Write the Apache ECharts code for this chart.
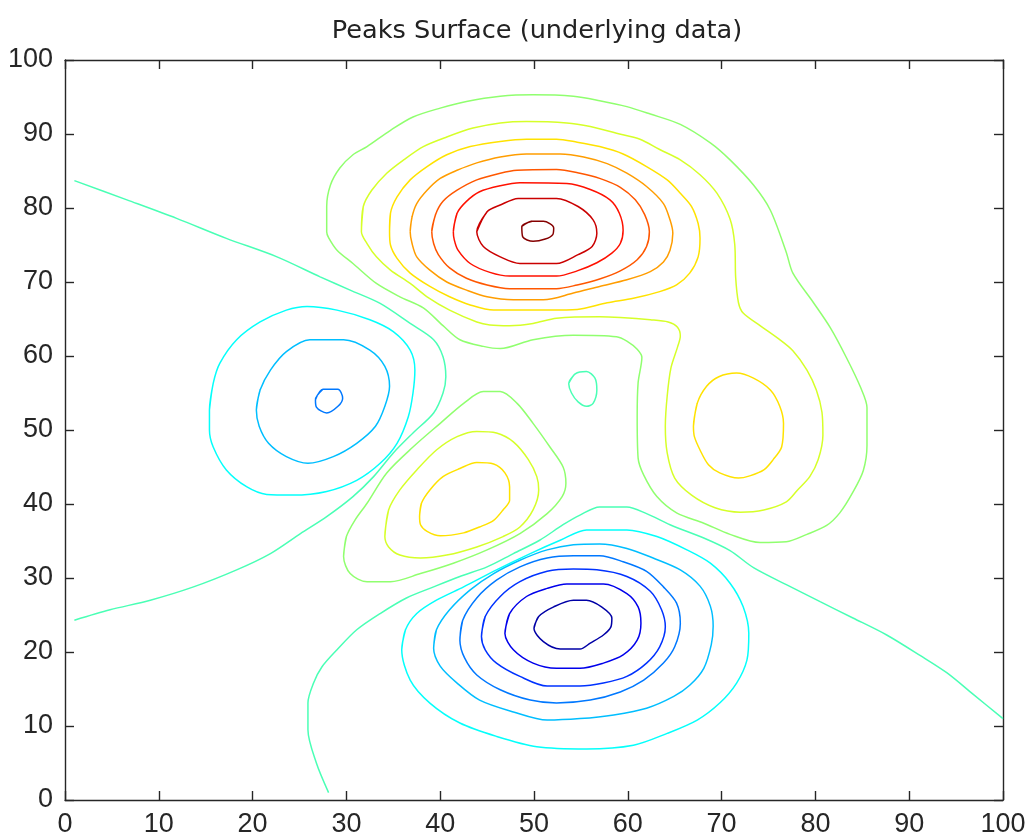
<!DOCTYPE html>
<html>
<head>
<meta charset="utf-8">
<script src="https://cdn.jsdelivr.net/npm/echarts@6/dist/echarts.min.js"></script>
<style>html,body{margin:0;padding:0;background:#fff}#chart{width:1030px;height:838px}</style>
</head>
<body>
<div id="chart"></div>
<script>
// Contour levels and their jet colours
const levels = [-6, -5, -4, -3, -2, -1, 0, 1, 2, 3, 4, 5, 6, 7, 8];
const levelColors = ['#0000a6', '#0000eb', '#0032ff', '#0078ff', '#00beff', '#04fffb', '#4affb5', '#90ff6f', '#d6ff29', '#ffe200', '#ff9d00', '#ff5700', '#ff1100', '#ca0000', '#850000'];
const axisTicks = [0, 10, 20, 30, 40, 50, 60, 70, 80, 90, 100];

// Contour paths (x, y)
const c8 = [[48.7,77.5],[49.8,78.2],[51.0,78.2],[52.1,77.3],[52.0,76.4],[51.2,75.8],[49.9,75.5],[48.8,76.1]];
const c7 = [[43.9,76.8],[45.0,79.5],[46.4,80.4],[48.3,81.3],[52.4,81.3],[54.7,80.2],[56.3,78.4],[56.7,76.6],[56.2,74.8],[54.7,73.7],[52.4,72.5],[48.5,72.5],[46.4,73.4],[44.6,74.8]];
const c6 = [[41.4,76.8],[41.8,79.3],[42.8,80.9],[44.2,82.2],[46.4,83.0],[48.5,83.4],[53.5,83.3],[56.0,82.5],[58.1,81.1],[59.1,79.3],[59.5,77.0],[59.2,75.2],[58.3,73.9],[56.7,72.6],[54.6,71.5],[52.4,70.8],[47.4,70.8],[45.3,71.3],[43.2,72.5],[41.9,74.3],[41.5,75.7]];
const c5 = [[39.1,76.8],[39.5,79.1],[40.3,80.9],[41.8,82.4],[43.9,83.8],[46.4,84.7],[48.2,85.1],[52.4,85.2],[54.9,84.7],[57.0,84.0],[59.2,82.8],[60.8,81.1],[61.8,79.1],[62.3,76.8],[62.0,74.8],[61.0,73.0],[59.2,71.5],[57.0,70.4],[54.6,69.6],[52.4,69.1],[47.4,69.1],[45.0,69.6],[42.8,70.5],[41.0,71.9],[39.8,73.7],[39.3,75.2]];
const c4 = [[36.8,76.8],[37.0,78.8],[37.5,80.6],[38.6,82.4],[40.0,84.0],[41.8,85.1],[43.9,86.1],[46.4,86.9],[49.2,87.3],[52.8,87.3],[55.3,86.9],[57.8,86.0],[59.9,84.7],[62.0,82.9],[63.8,80.6],[64.5,78.4],[64.8,76.6],[64.5,74.3],[63.8,72.7],[62.4,71.4],[59.9,70.3],[57.0,69.4],[54.2,68.5],[51.0,67.6],[47.8,67.6],[45.0,68.0],[42.8,68.9],[40.7,70.0],[38.9,71.6],[37.5,73.4],[37.0,75.2]];
const c3Top = [[34.6,76.8],[34.7,79.3],[35.4,81.5],[36.8,83.8],[38.6,85.6],[40.7,87.2],[43.2,88.3],[46.4,89.0],[49.2,89.3],[52.4,89.3],[54.6,88.9],[57.0,88.3],[59.5,87.3],[62.0,85.6],[64.2,83.8],[65.6,82.0],[66.8,80.2],[67.5,77.9],[67.7,75.9],[67.5,73.4],[66.6,71.2],[65.2,69.6],[63.4,68.7],[60.6,67.8],[57.8,67.2],[54.6,66.3],[51.7,66.2],[45.7,66.2],[43.2,66.9],[41.0,68.0],[38.9,69.4],[36.8,71.2],[35.4,73.2],[34.7,75.0]];
const c3Mid = [[37.8,38.3],[38.0,40.1],[38.9,41.9],[40.3,43.7],[42.1,44.8],[43.9,45.6],[45.7,45.4],[46.9,44.2],[47.4,42.3],[47.4,40.5],[46.7,39.2],[45.7,37.8],[44.2,36.9],[42.5,36.1],[40.0,35.7],[38.6,36.3],[37.9,37.2]];
const c3Right = [[67.0,50.5],[67.4,53.6],[68.4,55.9],[69.7,57.2],[71.6,57.7],[73.4,57.0],[75.2,55.4],[76.2,53.2],[76.6,50.9],[76.4,47.7],[75.5,46.0],[74.5,44.6],[73.0,43.8],[71.8,43.5],[69.8,44.2],[68.6,45.3],[67.7,47.3],[67.1,49.1]];
const c2Big = [[31.6,76.8],[31.8,80.2],[32.7,82.4],[34.3,84.7],[36.1,86.5],[38.2,88.3],[40.7,89.6],[43.5,90.8],[46.4,91.5],[49.2,91.7],[53.5,91.5],[56.0,91.0],[58.8,90.1],[61.3,89.3],[63.4,87.9],[65.6,86.5],[67.7,84.5],[69.5,82.0],[70.9,78.5],[71.4,75.1],[71.5,70.6],[71.8,67.2],[72.3,65.8],[74.1,64.1],[76.2,62.2],[77.6,60.7],[79.1,58.1],[80.1,55.4],[80.7,52.4],[80.8,49.3],[80.3,46.0],[79.4,43.7],[78.1,41.9],[76.9,40.3],[74.5,39.2],[72.0,38.9],[69.3,39.5],[66.8,41.2],[65.0,43.5],[64.2,46.9],[64.0,50.5],[64.2,54.6],[64.6,58.4],[65.3,61.2],[65.6,62.7],[65.3,63.9],[64.3,64.6],[62.4,64.9],[59.2,65.2],[57.0,65.3],[52.4,65.1],[49.9,64.4],[47.4,64.1],[45.3,64.2],[43.9,64.6],[41.0,66.2],[38.6,68.0],[36.8,69.8],[34.7,71.6],[33.2,73.4],[32.2,75.2]];
const c2Mid = [[34.1,35.6],[34.5,39.2],[35.7,41.9],[37.5,44.6],[39.6,47.3],[41.8,49.1],[43.9,49.8],[46.0,49.6],[47.8,48.4],[49.4,46.0],[50.3,43.7],[50.5,41.9],[49.9,39.2],[48.5,36.9],[46.7,35.6],[43.9,34.2],[40.7,33.1],[37.9,32.7],[35.7,33.1],[34.5,34.2]];
const c1Big = [[27.9,76.8],[27.9,80.2],[28.3,83.1],[29.3,85.4],[30.7,87.2],[32.2,88.3],[34.7,90.5],[37.1,92.3],[40.0,93.5],[42.8,94.4],[46.4,95.1],[49.9,95.3],[54.2,95.1],[57.0,94.5],[59.9,93.7],[62.4,92.7],[65.6,91.3],[68.8,88.8],[70.9,86.5],[73.4,83.1],[75.2,79.7],[76.9,74.0],[77.6,71.2],[79.8,67.2],[81.6,63.8],[83.3,59.8],[84.8,55.8],[85.5,53.0],[85.5,47.9],[85.1,44.5],[84.0,41.6],[82.6,38.8],[81.2,37.1],[79.1,35.9],[76.9,34.9],[74.1,34.8],[70.9,35.9],[68.1,37.4],[65.2,38.8],[63.1,41.0],[61.7,43.9],[61.1,46.2],[61.0,51.8],[61.1,56.4],[61.5,59.8],[61.0,60.9],[59.9,62.0],[58.8,62.6],[54.2,62.8],[49.9,62.2],[46.4,61.0],[44.6,61.3],[42.1,62.2],[40.3,64.1],[38.2,66.5],[35.7,68.0],[33.2,69.8],[30.7,72.5],[29.0,74.3],[28.1,76.0]];
const c1Mid = [[29.7,32.9],[30.0,35.6],[30.9,37.8],[32.2,40.1],[34.3,44.2],[37.1,47.7],[40.0,50.9],[42.5,53.6],[44.6,55.2],[46.4,55.2],[48.2,53.6],[49.9,50.9],[51.7,47.7],[53.1,45.0],[53.4,42.8],[53.0,41.0],[51.4,38.7],[48.5,36.0],[45.0,33.8],[41.4,32.0],[37.9,30.6],[34.7,29.5],[32.2,29.5],[30.4,30.6]];
const c0Upper = [[1,83.7],[6.6,81.1],[11.9,78.6],[17.2,75.9],[22.6,73.4],[27.2,70.7],[30.4,68.9],[33.6,67.1],[36.8,64.4],[39.3,62.2],[40.3,59.9],[40.6,57.2],[40.3,55.0],[39.3,52.3],[37.1,49.6],[35.0,46.9],[32.9,43.7],[30.7,41.0],[27.9,38.3],[25.1,36.0],[21.9,33.3],[18.3,31.1],[13.7,28.8],[9.1,27.0],[4.8,25.7],[1,24.3]];
const c0Lower = [[28.1,1],[26.8,5.0],[25.9,9.5],[25.9,13.1],[26.5,15.8],[27.4,18.0],[29.0,20.3],[31.1,23.0],[33.6,25.2],[36.4,27.3],[39.3,28.8],[42.1,30.2],[45.0,31.5],[47.8,33.3],[50.6,35.1],[53.1,37.2],[54.9,38.5],[57.0,39.6],[59.9,39.6],[62.0,38.7],[64.5,37.2],[68.1,35.4],[70.9,33.7],[73.4,31.4],[76.9,29.1],[80.5,26.8],[84.0,24.6],[87.6,22.3],[91.2,19.5],[94.0,17.2],[96.8,14.3],[100,11.0]];
const c0Small = [[53.7,56.3],[54.4,57.6],[55.6,57.9],[56.5,57.0],[56.7,55.4],[56.3,53.6],[55.6,53.2],[54.7,53.8],[54.0,55.0]];
const cm1Left = [[15.4,52.7],[15.8,56.3],[16.5,59.0],[18.3,62.2],[20.8,64.6],[23.6,66.2],[25.8,66.7],[29.0,66.2],[32.5,64.9],[35.0,63.3],[36.8,60.8],[37.3,58.1],[37.1,55.0],[36.6,51.8],[35.4,48.2],[33.6,45.5],[31.1,43.2],[27.9,41.7],[24.3,41.2],[21.5,41.3],[19.4,42.3],[17.2,44.6],[15.8,47.7],[15.4,50.0]];
const cm1Low = [[35.9,20.3],[36.3,23.0],[37.5,25.2],[39.6,27.0],[42.5,28.8],[46.0,31.1],[49.6,33.3],[52.8,35.1],[55.6,36.5],[59.9,36.5],[63.1,35.6],[66.3,33.8],[68.8,32.0],[70.9,29.3],[72.3,26.1],[72.9,22.5],[72.7,18.9],[71.6,15.8],[69.8,13.1],[67.4,10.8],[64.2,9.0],[60.6,7.4],[55.6,6.9],[50.3,7.2],[46.0,8.6],[42.1,10.4],[38.9,13.1],[36.8,16.2]];
const cm2Left = [[20.4,52.7],[20.8,55.4],[21.9,58.1],[23.6,60.6],[26.1,62.2],[29.7,62.2],[32.5,60.8],[34.1,58.6],[34.6,55.9],[34.1,53.2],[33.1,50.5],[31.1,48.2],[28.6,46.4],[25.9,45.5],[23.6,46.4],[21.7,48.2],[20.7,50.5]];
const cm2Low = [[39.3,20.5],[39.6,23.0],[41.0,25.7],[43.2,28.4],[45.7,30.6],[48.5,32.4],[51.4,33.8],[54.2,34.5],[57.0,34.6],[59.9,34.0],[62.7,32.7],[65.6,31.1],[67.7,28.9],[68.8,26.2],[69.1,23.5],[68.9,21.0],[68.1,17.8],[66.6,15.5],[64.9,14.0],[62.0,12.4],[58.5,11.5],[54.9,11.0],[51.4,10.8],[47.8,11.9],[44.2,13.5],[41.8,15.8],[40.0,18.1]];
const cm3Left = [[26.7,54.1],[27.5,55.5],[29.1,55.5],[29.6,54.3],[29.1,53.2],[27.9,52.3],[26.8,53.1]];
const cm3Low = [[42.1,21.6],[42.4,24.3],[43.9,27.3],[46.0,29.7],[48.5,31.5],[51.4,32.7],[54.2,33.0],[57.0,33.0],[59.5,32.2],[62.0,30.9],[63.8,28.8],[65.2,26.6],[65.6,23.9],[65.0,20.7],[63.8,18.5],[61.7,16.2],[59.2,14.6],[56.0,13.5],[52.4,13.1],[49.6,13.5],[46.4,14.9],[43.9,16.9],[42.6,19.2]];
const cm4 = [[44.4,22.1],[44.8,24.8],[46.4,27.5],[48.5,29.5],[51.4,30.9],[54.2,31.2],[56.7,31.1],[59.9,30.2],[62.4,28.2],[63.6,25.7],[64.0,23.4],[63.4,20.7],[62.0,18.5],[59.9,16.7],[57.4,15.8],[54.9,15.4],[51.4,15.4],[48.5,16.7],[46.0,18.5],[44.8,20.3]];
const cm5 = [[46.9,22.5],[47.4,25.2],[49.2,27.5],[51.4,28.6],[53.5,29.2],[57.4,29.2],[59.9,27.9],[61.1,26.1],[61.4,23.9],[61.0,21.6],[59.5,19.6],[57.4,18.5],[54.9,17.8],[52.4,17.8],[49.9,18.5],[47.8,20.3]];
const cm6 = [[50.0,23.2],[50.5,24.8],[52.1,26.1],[54.2,27.0],[55.6,27.0],[57.2,26.1],[58.3,24.6],[58.2,23.4],[57.4,22.3],[56.0,21.2],[54.9,20.4],[52.8,20.4],[51.0,21.4]];

const contours = [
  { level: -6, pts: cm6, closed: true },
  { level: -5, pts: cm5, closed: true },
  { level: -4, pts: cm4, closed: true },
  { level: -3, pts: cm3Left, closed: true },
  { level: -3, pts: cm3Low, closed: true },
  { level: -2, pts: cm2Left, closed: true },
  { level: -2, pts: cm2Low, closed: true },
  { level: -1, pts: cm1Left, closed: true },
  { level: -1, pts: cm1Low, closed: true },
  { level: 0, pts: c0Upper, closed: false },
  { level: 0, pts: c0Lower, closed: false },
  { level: 0, pts: c0Small, closed: true },
  { level: 1, pts: c1Big, closed: true },
  { level: 1, pts: c1Mid, closed: true },
  { level: 2, pts: c2Big, closed: true },
  { level: 2, pts: c2Mid, closed: true },
  { level: 3, pts: c3Top, closed: true },
  { level: 3, pts: c3Mid, closed: true },
  { level: 3, pts: c3Right, closed: true },
  { level: 4, pts: c4, closed: true },
  { level: 5, pts: c5, closed: true },
  { level: 6, pts: c6, closed: true },
  { level: 7, pts: c7, closed: true },
  { level: 8, pts: c8, closed: true }
];

const axisColor = '#262626';
const series = contours.map(function (c) {
  // closed rings wrap around past the first point so the smoothing has no corner at the join
  const data = c.closed ? c.pts.concat([c.pts[0], c.pts[1]]) : c.pts.slice();
  return {
    type: 'line',
    name: 'level ' + c.level,
    data: data,
    showSymbol: false,
    symbol: 'none',
    smooth: 0.3,
    silent: true,
    xAxisIndex: 0,
    yAxisIndex: 0,
    lineStyle: { color: levelColors[levels.indexOf(c.level)], width: 1.5 }
  };
});

function makeAxis(pos, showLabel) {
  return {
    type: 'value', min: axisTicks[0], max: axisTicks[axisTicks.length - 1], interval: 10,
    position: pos,
    axisLine: { show: true, onZero: false, lineStyle: { color: axisColor, width: 1.4 } },
    axisTick: { show: true, inside: true, length: 9, lineStyle: { color: axisColor, width: 1.4 } },
    axisLabel: { show: showLabel, fontFamily: 'Liberation Sans', fontSize: 27, color: axisColor, margin: pos === 'left' ? 12 : 11 },
    splitLine: { show: false }
  };
}

const chart = echarts.init(document.getElementById('chart'), null, { renderer: 'canvas' });
chart.setOption({
  animation: false,
  backgroundColor: '#ffffff',
  grid: { left: 65, right: 27, top: 60, bottom: 38, containLabel: false },
  xAxis: [makeAxis('bottom', true), makeAxis('top', false)],
  yAxis: [makeAxis('left', true), makeAxis('right', false)],
  graphic: [{
    type: 'text', x: 537, y: 31,
    style: { text: 'Peaks Surface (underlying data)', font: '25.6px "DejaVu Sans"', fill: '#222', align: 'center', verticalAlign: 'middle' }
  }],
  series: series
});
</script>
</body>
</html>
